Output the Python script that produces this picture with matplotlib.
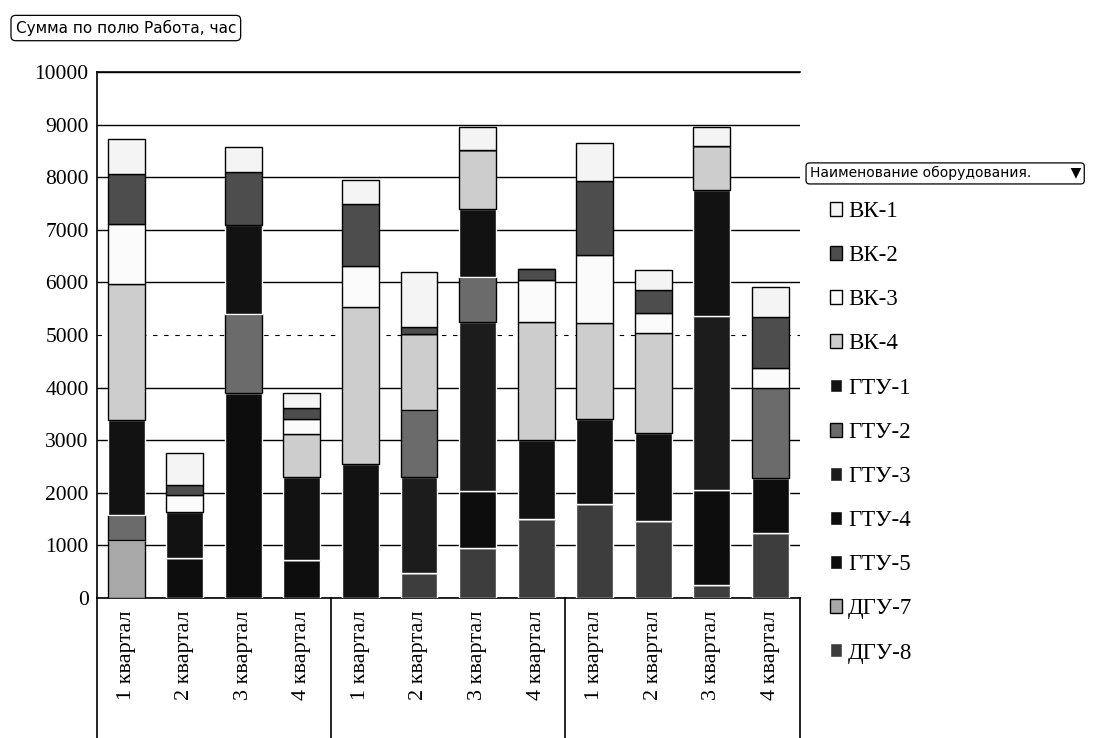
import matplotlib
matplotlib.use('Agg')
import matplotlib.pyplot as plt
import numpy as np

plt.rcParams['font.family'] = ['Liberation Serif', 'DejaVu Serif']

quarters = ['1 квартал', '2 квартал', '3 квартал', '4 квартал'] * 3

# hours per equipment, one value per bar (3 years x 4 quarters)
vk1 = [660, 610, 480, 280, 460, 1040, 430, 0, 740, 380, 350, 570]
vk2 = [950, 200, 1010, 220, 1180, 130, 0, 200, 1400, 450, 0, 980]
vk3 = [1150, 320, 0, 280, 780, 0, 0, 800, 1290, 370, 0, 380]
vk4 = [2590, 0, 0, 820, 2980, 1440, 1120, 2250, 1820, 1910, 850, 0]
gtu1 = [1805, 870, 1690, 1570, 2550, 0, 1300, 1500, 1620, 1660, 2390, 0]
gtu2 = [465, 0, 1500, 0, 0, 1270, 850, 0, 0, 0, 0, 1710]
gtu3 = [0, 0, 0, 0, 0, 1840, 3220, 0, 0, 0, 3300, 0]
gtu4 = [0, 0, 3900, 0, 0, 0, 1080, 0, 0, 0, 1810, 1040]
gtu5 = [0, 760, 0, 730, 0, 0, 0, 0, 0, 0, 0, 0]
dgu7 = [1110, 0, 0, 0, 0, 0, 0, 0, 0, 0, 0, 0]
dgu8 = [0, 0, 0, 0, 0, 470, 950, 1500, 1790, 1470, 250, 1240]

names = ['ВК-1', 'ВК-2', 'ВК-3', 'ВК-4', 'ГТУ-1', 'ГТУ-2', 'ГТУ-3',
         'ГТУ-4', 'ГТУ-5', 'ДГУ-7', 'ДГУ-8']
series = [vk1, vk2, vk3, vk4, gtu1, gtu2, gtu3, gtu4, gtu5, dgu7, dgu8]
colors = ['#f4f4f4', '#4d4d4d', '#fbfbfb', '#cdcdcd', '#121212', '#6b6b6b',
          '#1c1c1c', '#0d0d0d', '#0d0d0d', '#a8a8a8', '#3d3d3d']
edges = ['black', 'black', 'black', 'black', 'white', 'black',
         'white', 'white', 'white', 'black', 'white']

fig = plt.figure(figsize=(11.12, 7.38), dpi=100)
ax = fig.add_axes([0.0872, 0.1897, 0.6318, 0.7127])

x = np.arange(len(quarters))
bottom = np.zeros(len(quarters))
handles = []
# last series in the legend sits at the bottom of the stack
for name, vals, c, ec in reversed(list(zip(names, series, colors, edges))):
    b = ax.bar(x, vals, 0.63, bottom=bottom, color=c, edgecolor=ec,
               linewidth=1.0, label=name, zorder=3)
    bottom += np.array(vals)
    handles.append(b)

ax.set_xlim(-0.5, len(quarters) - 0.5)
ax.set_ylim(0, 10000)
ax.set_yticks(range(0, 10001, 1000))
ax.tick_params(axis='y', length=0, pad=6, labelsize=15.5)
ax.yaxis.grid(True, color='black', linewidth=1.0, zorder=0)
ax.get_ygridlines()[5].set_linestyle((0, (4, 6)))
ax.get_ygridlines()[5].set_linewidth(0.8)
ax.set_axisbelow(True)
ax.spines['right'].set_visible(False)
for s in ['left', 'top', 'bottom']:
    ax.spines[s].set_linewidth(1.2)

ax.set_xticks(x)
ax.set_xticklabels(quarters, rotation=90, fontsize=16)
ax.tick_params(axis='x', length=0, pad=9)

# group separators under the category axis
for xs in [-0.5, 3.5, 7.5, 11.5]:
    ax.plot([xs, xs], [0, -0.27], transform=ax.get_xaxis_transform(),
            color='black', linewidth=1.2, clip_on=False)

fig.text(0.014, 0.962, 'Сумма по полю Работа, час', fontsize=11,
         family='DejaVu Sans', va='center', ha='left',
         bbox=dict(boxstyle='round,pad=0.3', fc='white', ec='black', lw=0.9))

fig.text(0.728, 0.765, 'Наименование оборудования.         \u25bc', fontsize=10,
         family='DejaVu Sans', va='center', ha='left',
         bbox=dict(boxstyle='round,pad=0.25', fc='white', ec='black', lw=0.9))

leg = fig.legend(handles[::-1], names, loc='upper left',
                 bbox_to_anchor=(0.738, 0.74), frameon=False, fontsize=16.5,
                 handlelength=0.55, handleheight=0.55, handletextpad=0.25,
                 labelspacing=1.01, borderaxespad=0)

plt.savefig('out.png', dpi=100)
